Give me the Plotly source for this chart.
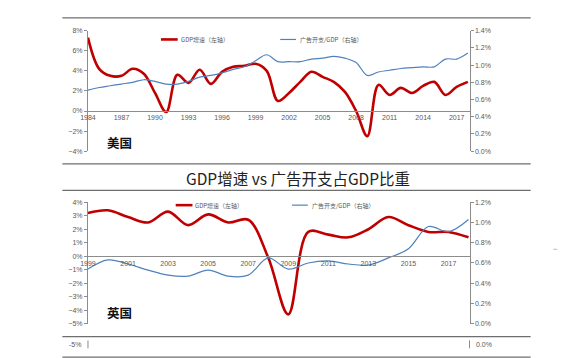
import plotly.graph_objects as go

W, H = 567, 358

# ---------------- data ----------------
us_years = list(range(1984, 2019))
us_gdp = [7.3, 4.2, 3.5, 3.5, 4.2, 3.7, 1.8, -0.1, 3.6, 2.8, 4.1, 2.7, 3.9, 4.4, 4.5, 4.7,
          4.0, 1.0, 1.8, 2.9, 3.9, 3.4, 2.9, 1.9, 0.0, -2.5, 2.6, 1.6, 2.3, 1.8, 2.5, 2.9,
          1.6, 2.4, 2.9]
us_ad = [0.71, 0.74, 0.76, 0.78, 0.80, 0.83, 0.81, 0.78, 0.78, 0.81, 0.86, 0.88, 0.91,
         0.95, 0.98, 1.05, 1.12, 1.04, 1.04, 1.04, 1.07, 1.08, 1.10, 1.08, 1.03, 0.88,
         0.92, 0.94, 0.96, 0.97, 0.98, 0.98, 1.07, 1.07, 1.14]

uk_years = list(range(1999, 2019))
uk_gdp = [3.2, 3.4, 2.9, 2.5, 3.3, 2.3, 3.1, 2.5, 2.7, -0.1, -4.3, 1.8, 1.6, 1.4, 2.0,
          2.9, 2.3, 1.8, 1.8, 1.4]
uk_ad = [0.54, 0.63, 0.59, 0.53, 0.48, 0.47, 0.53, 0.47, 0.48, 0.65, 0.54, 0.60, 0.62,
         0.59, 0.58, 0.65, 0.74, 0.96, 0.91, 1.03]

us_xticks = list(range(1984, 2018, 3))
uk_xticks = list(range(1999, 2018, 2))
title_text = "GDP增速 vs 广告开支占GDP比重"
gdp_name = "GDP增速（左轴）"
ad_name = "广告开支/GDP（右轴）"

# ---------------- styling ----------------
RED = "#C00000"
BLUE = "#4F81BD"
AXIS = "#8C8C8C"
TXT = "#595959"
FONT = "Liberation Sans"
CJK = "Noto Sans CJK SC"


def px(x):
    return x / W


def py(y):
    return 1 - y / H


fig = go.Figure()

fig.add_trace(go.Scatter(x=us_years, y=us_gdp, mode="lines", name=gdp_name,
                         line=dict(color=RED, width=2.6, shape="spline", smoothing=1.0),
                         xaxis="x", yaxis="y", showlegend=False))
fig.add_trace(go.Scatter(x=us_years, y=us_ad, mode="lines", name=ad_name,
                         line=dict(color=BLUE, width=1.2, shape="spline", smoothing=1.0),
                         xaxis="x", yaxis="y2", showlegend=False))
fig.add_trace(go.Scatter(x=uk_years, y=uk_gdp, mode="lines", name=gdp_name,
                         line=dict(color=RED, width=2.6, shape="spline", smoothing=1.0),
                         xaxis="x2", yaxis="y3", showlegend=False))
fig.add_trace(go.Scatter(x=uk_years, y=uk_ad, mode="lines", name=ad_name,
                         line=dict(color=BLUE, width=1.2, shape="spline", smoothing=1.0),
                         xaxis="x2", yaxis="y4", showlegend=False))

xdom = [px(73), px(460)]
tickfont = dict(family=FONT, size=7, color=TXT)

common_y = dict(showgrid=False, zeroline=False, showline=True, linecolor=AXIS, linewidth=1,
                ticks="outside", ticklen=3, tickcolor=AXIS, tickfont=tickfont)
common_x = dict(showgrid=False, zeroline=False, showline=True, linecolor=AXIS, linewidth=1,
                ticks="", tickfont=tickfont, domain=xdom, anchor="free")

fig.update_layout(
    width=W, height=H,
    margin=dict(l=0, r=0, t=0, b=0),
    paper_bgcolor="white", plot_bgcolor="rgba(0,0,0,0)",
    xaxis=dict(**common_x, range=[1984, 2018.15], tickvals=us_xticks, position=py(101)),
    yaxis=dict(**common_y, domain=[py(142), py(19)], range=[-4, 8], dtick=2,
               ticksuffix="%", anchor="x"),
    yaxis2=dict(**common_y, domain=[py(142), py(19)], range=[0, 1.4], dtick=0.2,
                tickformat=".1f", ticksuffix="%", overlaying="y", side="right", anchor="x"),
    xaxis2=dict(**common_x, range=[1999, 2018.05], tickvals=uk_xticks, position=py(249)),
    yaxis3=dict(**common_y, domain=[py(318), py(194)], range=[-5, 4], dtick=1,
                ticksuffix="%", anchor="x2"),
    yaxis4=dict(**common_y, domain=[py(318), py(194)], range=[0, 1.2], dtick=0.2,
                tickformat=".1f", ticksuffix="%", overlaying="y3", side="right", anchor="x2"),
)

shapes = []
# separator lines
for yy in [6, 155, 182, 331, 352]:
    shapes.append(dict(type="line", xref="paper", yref="paper", x0=px(47), x1=px(522),
                       y0=py(yy), y1=py(yy), line=dict(color="#6E6E6E", width=1.2)))
# small axis remnants below the bottom band
shapes.append(dict(type="line", xref="paper", yref="paper", x0=px(73), x1=px(73),
                   y0=py(335), y1=py(343), line=dict(color=AXIS, width=1)))
shapes.append(dict(type="line", xref="paper", yref="paper", x0=px(460), x1=px(460),
                   y0=py(335), y1=py(343), line=dict(color=AXIS, width=1)))
shapes.append(dict(type="line", xref="paper", yref="paper", x0=px(545), x1=px(549),
                   y0=py(242), y1=py(242), line=dict(color="#BBBBBB", width=1)))
# legend samples
shapes.append(dict(type="line", xref="paper", yref="paper", x0=px(147), x1=px(164),
                   y0=py(28), y1=py(28), line=dict(color=RED, width=2.6)))
shapes.append(dict(type="line", xref="paper", yref="paper", x0=px(268), x1=px(284),
                   y0=py(28), y1=py(28), line=dict(color=BLUE, width=1.2)))
shapes.append(dict(type="line", xref="paper", yref="paper", x0=px(162), x1=px(179),
                   y0=py(197), y1=py(197), line=dict(color=RED, width=2.6)))
shapes.append(dict(type="line", xref="paper", yref="paper", x0=px(280), x1=px(296),
                   y0=py(197), y1=py(197), line=dict(color=BLUE, width=1.2)))

ann = []


def label(text, x, y, size, color=TXT, family=CJK, xanchor="left"):
    ann.append(dict(text=text, x=px(x), y=py(y), xref="paper", yref="paper",
                    xanchor=xanchor, yanchor="middle", showarrow=False,
                    font=dict(family=family, size=size, color=color)))


label(gdp_name, 165, 28, 6)
label(ad_name, 286, 28, 6)
label(gdp_name, 180, 197, 6)
label(ad_name, 298, 197, 6)
label(title_text, 286, 169, 15.5, color="#222222", xanchor="center")
label("<b>美国</b>", 90, 133, 12.5, color="#111111")
label("<b>英国</b>", 90, 307, 12.5, color="#111111")
label("-5%", 68, 339, 7, family=FONT, xanchor="right")
label("0.0%", 465, 339, 7, family=FONT)

fig.update_layout(shapes=shapes, annotations=ann)
fig.write_html("out.html")
